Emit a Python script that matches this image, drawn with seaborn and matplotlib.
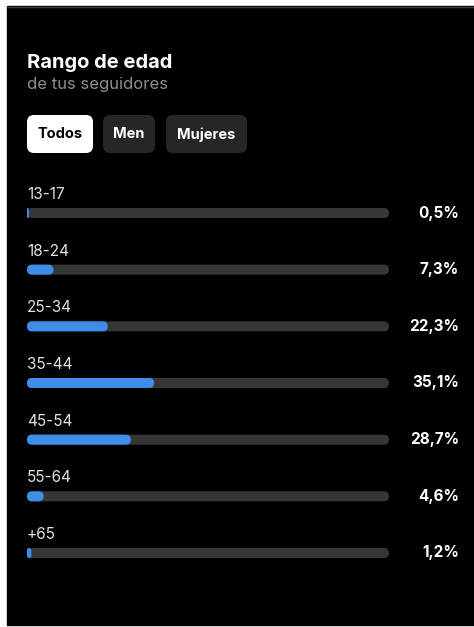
import matplotlib
matplotlib.use("Agg")
import matplotlib.pyplot as plt
from matplotlib.patches import FancyBboxPatch, Rectangle
from matplotlib.transforms import blended_transform_factory
import seaborn as sns
import pandas as pd

# Audience age breakdown (percent of followers)
age_groups = ["13-17", "18-24", "25-34", "35-44", "45-54", "55-64", "+65"]
shares = [0.5, 7.3, 22.3, 35.1, 28.7, 4.6, 1.2]
share_labels = ["0,5%", "7,3%", "22,3%", "35,1%", "28,7%", "4,6%", "1,2%"]
scale_max = 100
filters = ["Todos", "Men", "Mujeres"]
title = "Rango de edad"
subtitle = "de tus seguidores"

BLUE = "#3e8ee9"
TRACK = "#363636"

W, H = 474, 627
sns.set_theme(style="white")
plt.rcParams["font.family"] = ["Inter", "DejaVu Sans"]

fig = plt.figure(figsize=(W / 100, H / 100), dpi=100, facecolor="white")

# full-figure canvas in pixel units for the card and header widgets
bg = fig.add_axes([0, 0, 1, 1])
bg.set_xlim(0, W)
bg.set_ylim(H, 0)
bg.axis("off")
bg.add_patch(Rectangle((7, 6), W - 7, 619, color="black", zorder=0))
bg.plot([7, W], [6.5, 6.5], color="#3a3a3a", lw=1, zorder=1)

bg.text(27, 68, title, color="white", fontsize=14.5, fontweight="bold", va="baseline", ha="left")
bg.text(27, 89.5, subtitle, color="#8e8e8e", fontsize=12, va="baseline", ha="left")

# filter chips
chip_spans = [(27, 93), (103, 155), (166, 247)]
for i, (label, (x0, x1)) in enumerate(zip(filters, chip_spans)):
    active = i == 0
    bg.add_patch(FancyBboxPatch((x0, 115), x1 - x0, 38,
                                boxstyle="round,pad=0,rounding_size=7",
                                fc="white" if active else "#262626", ec="none", zorder=2))
    bg.text((x0 + x1) / 2, 134.5, label, color="black" if active else "white",
            fontsize=10.5, fontweight="bold", ha="center", va="center", zorder=3)

# bar panel
left, right, top, bottom = 27, 389, 184.67, 581.33
ax = fig.add_axes([left / W, 1 - bottom / H, (right - left) / W, (bottom - top) / H])
ax.patch.set_visible(False)

df = pd.DataFrame({"age": age_groups, "share": shares, "track": [scale_max] * len(age_groups)})
bar_w = 10 / ((bottom - top) / len(age_groups))
sns.barplot(data=df, x="track", y="age", orient="h", color=TRACK, saturation=1,
            width=bar_w, ax=ax, zorder=2)
sns.barplot(data=df, x="share", y="age", orient="h", color=BLUE, saturation=1,
            width=bar_w, ax=ax, zorder=3)
ax.set_xlim(0, scale_max)
ax.set_ylim(len(age_groups) - 0.5, -0.5)
ax.set_axis_off()

# pixels per data unit, used to round the bar ends
p0 = ax.transData.transform((0, 0))
p1 = ax.transData.transform((1, 1))
px_x = abs(p1[0] - p0[0])
px_y = abs(p1[1] - p0[1])
aspect = px_x / px_y

for p in list(ax.patches):
    x, y, w, h = p.get_x(), p.get_y(), p.get_width(), p.get_height()
    r = min(5 / px_x, w / 2)
    rounded = FancyBboxPatch((x, y), w, h, boxstyle=f"round,pad=0,rounding_size={r}",
                             mutation_aspect=aspect, fc=p.get_facecolor(), ec="none",
                             zorder=p.get_zorder())
    p.remove()
    ax.add_patch(rounded)

val_trans = blended_transform_factory(ax.transAxes, ax.transData)
for i, (age, lab) in enumerate(zip(age_groups, share_labels)):
    ax.text(0, i - 14 / px_y, age, color="#e2e2e2", fontsize=11,
            ha="left", va="baseline", clip_on=False)
    ax.text((459 - left) / (right - left), i + 4.5 / px_y, lab, color="white",
            fontsize=11, fontweight="bold", ha="right", va="baseline",
            transform=val_trans, clip_on=False)

fig.savefig("out.png", dpi=100, facecolor="white")
